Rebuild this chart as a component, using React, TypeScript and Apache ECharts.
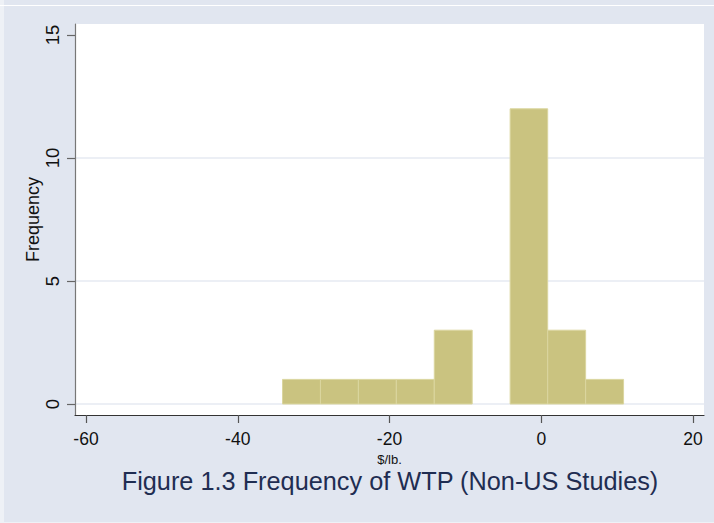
import React, { useEffect, useRef } from "react";
import * as echarts from "echarts";

const xTickValues = [-60, -40, -20, 0, 20];
const yTickValues = [0, 5, 10, 15];
const binEdges = [-34.1, -29.1, -24.1, -19.1, -14.1, -9.1, -4.1, 0.85, 5.85, 10.85];
const counts = [1, 1, 1, 1, 3, 0, 12, 3, 1];
const titleText = "Figure 1.3 Frequency of WTP (Non-US Studies)";
const xName = "$/lb.";
const yName = "Frequency";

const FONT = "'Liberation Sans', Arial, Helvetica, sans-serif";

export default function App() {
  const ref = useRef<HTMLDivElement>(null);
  useEffect(() => {
    if (!ref.current) return;
    const chart = echarts.init(ref.current, null, { renderer: "svg" });
    const data = counts.map((c, i) => [binEdges[i], binEdges[i + 1], c]);
    chart.setOption({
      animation: false,
      backgroundColor: "#eef1f6",
      graphic: [
        {
          type: "rect",
          z: -10,
          shape: { x: 4, y: 0, width: 710, height: 522 },
          style: { fill: "#e1e6f0" },
          silent: true,
        },
        {
          type: "line",
          z: -9,
          shape: { x1: 0, y1: 5.5, x2: 714, y2: 5.5 },
          style: { stroke: "#ffffff", lineWidth: 1.2 },
          silent: true,
        },
        {
          type: "text",
          x: 390,
          y: 481,
          style: {
            text: titleText,
            fontSize: 25.3,
            fontFamily: FONT,
            fill: "#1f2d52",
            textAlign: "center",
            textVerticalAlign: "middle",
          },
        },
        {
          type: "text",
          x: 33,
          y: 219.5,
          rotation: Math.PI / 2,
          style: {
            text: yName,
            fontSize: 18,
            fontFamily: FONT,
            fill: "#111",
            textAlign: "center",
            textVerticalAlign: "middle",
          },
        },
      ],
      grid: {
        left: 75,
        top: 24,
        width: 629,
        height: 391,
        show: true,
        backgroundColor: "#ffffff",
        borderWidth: 0,
      },
      xAxis: {
        type: "value",
        min: -61.45,
        max: 21.45,
        name: xName,
        nameLocation: "middle",
        nameGap: 33,
        nameTextStyle: { fontSize: 13, fontFamily: FONT, color: "#111" },
        axisLine: { show: true, onZero: false, lineStyle: { color: "#333", width: 1.2 } },
        axisTick: {
          show: true,
          length: 8,
          customValues: xTickValues,
          lineStyle: { color: "#555", width: 1.2 },
        },
        axisLabel: {
          customValues: xTickValues,
          fontSize: 17.5,
          fontFamily: FONT,
          color: "#111",
          margin: 15,
        },
        splitLine: { show: false },
      },
      yAxis: {
        type: "value",
        min: -0.447,
        max: 15.447,
        axisLine: { show: true, onZero: false, lineStyle: { color: "#777", width: 1.2 } },
        axisTick: {
          show: true,
          length: 8,
          customValues: yTickValues,
          lineStyle: { color: "#666", width: 1.2 },
        },
        axisLabel: {
          customValues: yTickValues,
          rotate: 90,
          fontSize: 18.5,
          fontFamily: FONT,
          color: "#111",
          margin: 13,
        },
        splitLine: {
          show: true,
          showMaxLine: false,
          lineStyle: { color: "#e6eaf2", width: 1.5 },
        },
      },
      series: [
        {
          type: "custom",
          data,
          encode: { x: [0, 1], y: 2 },
          renderItem: (params: any, api: any) => {
            const x0 = api.value(0);
            const x1 = api.value(1);
            const c = api.value(2);
            if (!c) return null;
            const p0 = api.coord([x0, 0]);
            const p1 = api.coord([x1, c]);
            return {
              type: "rect",
              shape: {
                x: p0[0],
                y: p1[1],
                width: p1[0] - p0[0],
                height: p0[1] - p1[1],
              },
              style: { fill: "#cac380", stroke: "#dbd69f", lineWidth: 1 },
            };
          },
        },
      ],
    });
    return () => chart.dispose();
  }, []);
  return (
    <div
      ref={ref}
      style={{ position: "fixed", left: 0, top: 0, width: 714, height: 523 }}
    />
  );
}
